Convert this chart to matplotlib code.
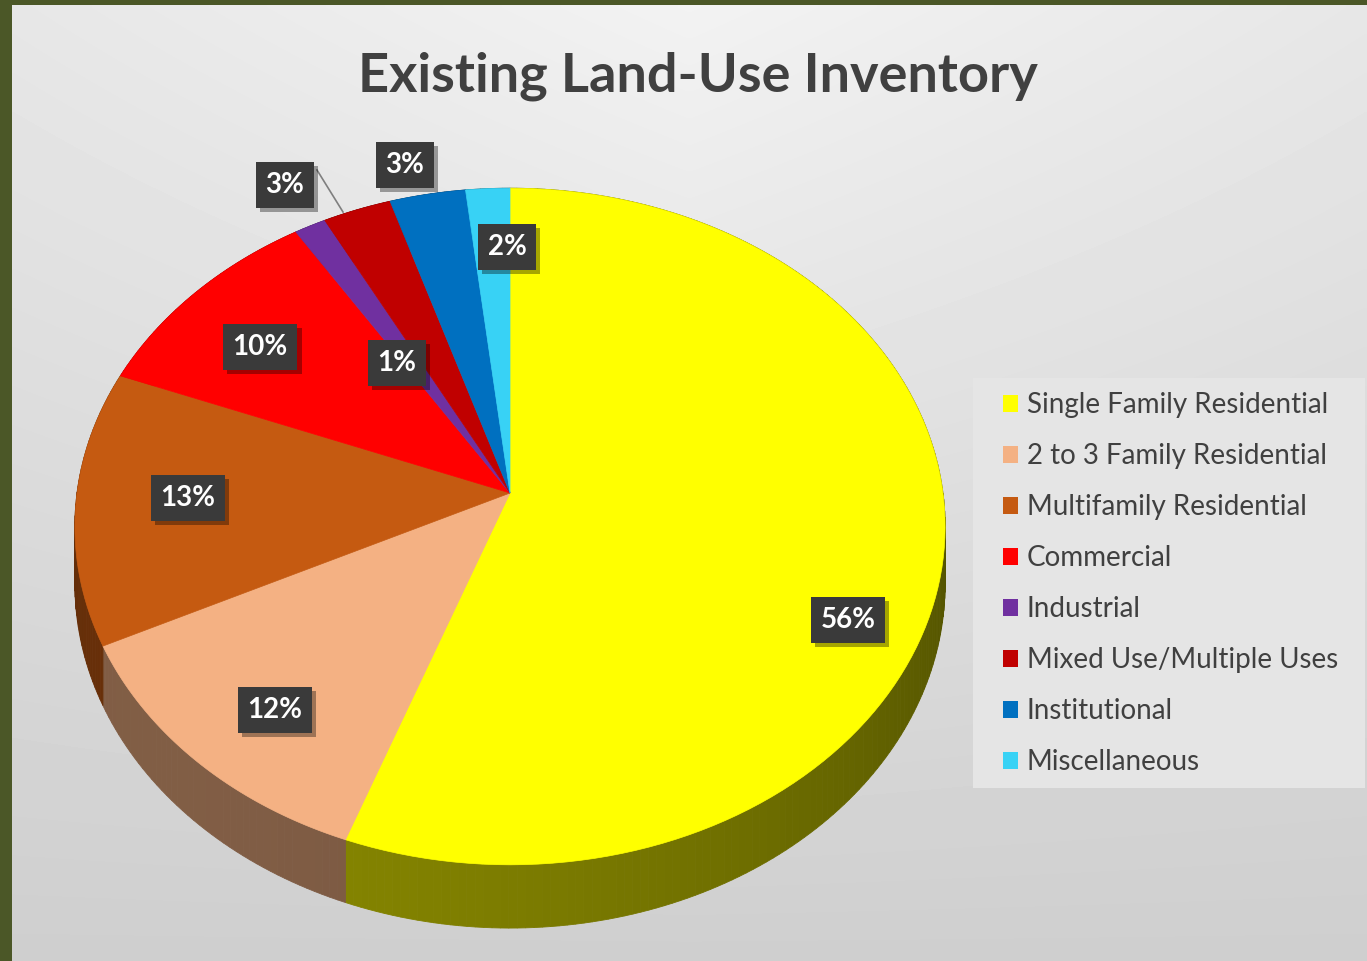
import numpy as np
import matplotlib.pyplot as plt
from matplotlib import patheffects as pe
from matplotlib.patches import Polygon, Rectangle

plt.rcParams['font.family'] = ['Lato', 'DejaVu Sans']

categories = ["Single Family Residential", "2 to 3 Family Residential",
              "Multifamily Residential", "Commercial", "Industrial",
              "Mixed Use/Multiple Uses", "Institutional", "Miscellaneous"]
shares = [55.6, 12.2, 13.1, 10.1, 1.3, 2.8, 3.1, 1.8]
colors = ["#FFFF00", "#F4B183", "#C55A11", "#FF0000", "#7030A0",
          "#C00000", "#0070C0", "#38D2F5"]
pct_labels = [f"{round(v)}%" for v in shares]

# label box positions (pixels), Excel-style manual placement
label_pos = [(848, 620), (275, 710), (188, 498), (260, 347),
             (397, 363), (285, 185), (405, 165), (507, 247)]

W, H = 1367, 961
fig = plt.figure(figsize=(W / 100, H / 100), dpi=100)
ax = fig.add_axes([0, 0, 1, 1])
ax.set_xlim(0, W)
ax.set_ylim(H, 0)
ax.axis('off')

# olive frame + grey gradient background
ax.add_patch(Rectangle((0, 0), W, H, fc="#4b5727", ec="none", zorder=0))
yy, xx = np.mgrid[0:1:200j, 0:1:300j]
val = 0.95 - 0.14 * yy - 0.09 * np.abs(xx - 0.5) * (1 - yy)
ax.imshow(val, cmap='gray', vmin=0, vmax=1, extent=[12, W, H, 5],
          aspect='auto', zorder=0.5, interpolation='bilinear')

# perspective pie geometry
CX, CY, A, B, K, T = 510, 493, 433, 335, 0.099, 57


def proj(r, th, drop=0.0):
    u = r * np.sin(th)
    w = r * np.cos(th)
    s = 1 / (1 + K * w)
    return CX + A * u * s, CY - B * w * s + drop * T * s


edges = np.concatenate([[0], np.cumsum(shares)]) / sum(shares) * 2 * np.pi

# side walls, shaded in strips
for i, c in enumerate(colors):
    a0, a1 = edges[i], edges[i + 1]
    n = max(2, int(np.degrees(a1 - a0)))
    ts = np.linspace(a0, a1, n + 1)
    base = np.array(plt.matplotlib.colors.to_rgb(c))
    for ta, tb in zip(ts[:-1], ts[1:]):
        tm = 0.5 * (ta + tb)
        f = 0.41 + 0.12 * np.cos(tm - np.radians(230))
        col = np.clip(base * f, 0, 1)
        pts = [proj(1, ta), proj(1, tb), proj(1, tb, 1), proj(1, ta, 1)]
        ax.add_patch(Polygon(pts, closed=True, fc=col, ec=col, lw=0.6, zorder=2))

# top faces
for i, c in enumerate(colors):
    ts = np.linspace(edges[i], edges[i + 1], 120)
    xs, ys = proj(1, ts)
    pts = [(CX, CY)] + list(zip(xs, ys))
    ax.add_patch(Polygon(pts, closed=True, fc=c, ec=c, lw=0.5, zorder=3))

# data labels
for (lx, ly), txt in zip(label_pos, pct_labels):
    t = ax.text(lx, ly, txt, ha='center', va='center', color='white',
                fontsize=20, fontweight='bold', zorder=6,
                bbox=dict(boxstyle='square,pad=0.35', fc='#3a3a3a', ec='none'))
    t.get_bbox_patch().set_path_effects(
        [pe.withSimplePatchShadow(offset=(3, -3), shadow_rgbFace='black', alpha=0.35)])

# leader line for Mixed Use label
ax.plot([317, 343], [170, 212], color='#7f7f7f', lw=1.2, zorder=5)

# title
ax.text(698, 76, "Existing Land-Use Inventory", ha='center', va='center',
        fontsize=39, fontweight='bold', color='#404040', zorder=6)

# legend
ax.add_patch(Rectangle((973, 378), 392, 410, fc='#e5e5e5', ec='none', zorder=4))
handles = [Rectangle((0, 0), 1, 1, fc=c, ec='none') for c in colors]
leg = ax.legend(handles, categories, loc='upper left',
                bbox_to_anchor=(1003 / W, 1 - 392 / H), frameon=False,
                fontsize=20, labelcolor='#404040', handlelength=0.55,
                handleheight=0.55, handletextpad=0.3, labelspacing=0.9,
                borderaxespad=0, borderpad=0)
leg.set_zorder(7)

fig.savefig("out.png", dpi=100)
